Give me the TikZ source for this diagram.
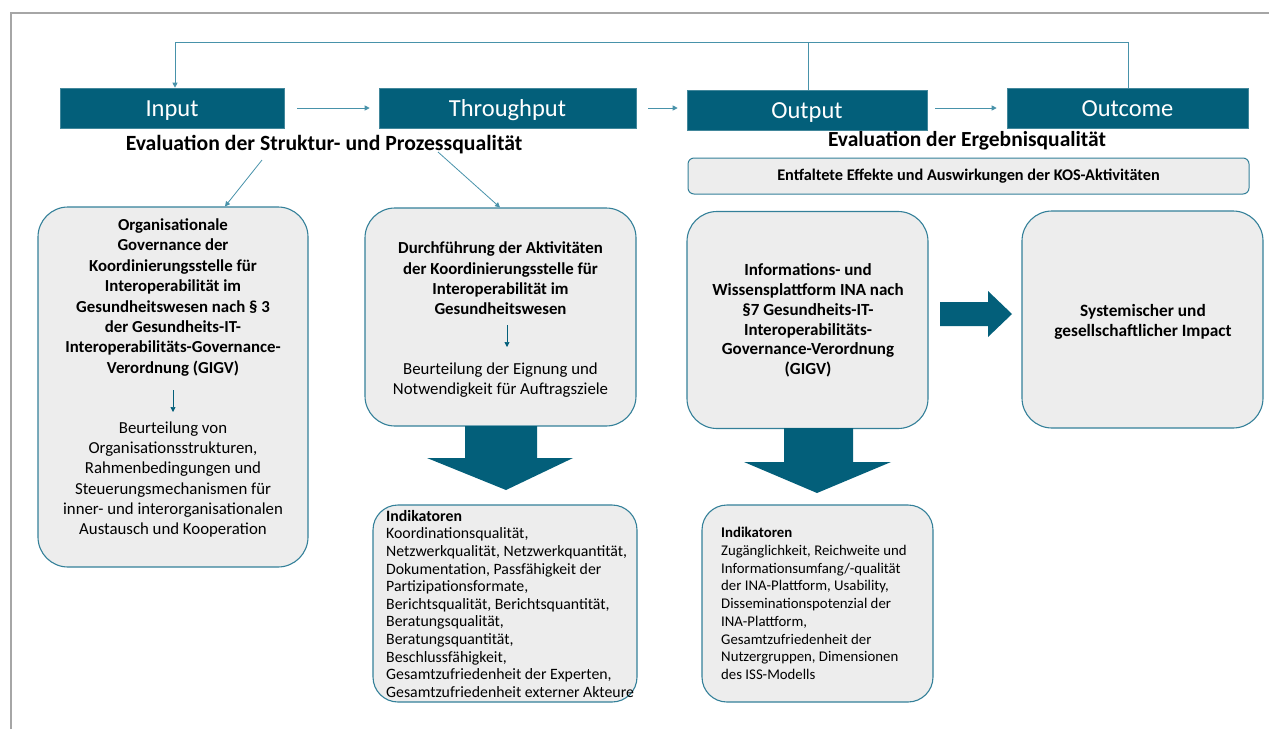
\documentclass[tikz,border=0pt]{standalone}
\usepackage{fontspec}
\setmainfont{Carlito}
\usetikzlibrary{arrows.meta}
\definecolor{hdrcol}{RGB}{3,95,122}
\definecolor{bordcol}{RGB}{52,128,153}
\definecolor{fillcol}{RGB}{237,237,237}
\definecolor{conncol}{RGB}{72,146,170}
\definecolor{framecol}{RGB}{166,166,166}
\begin{document}
\begin{tikzpicture}[x=1pt,y=-1pt,
  hdrbox/.style={fill=hdrcol, draw=hdrcol!75!white, line width=0.6pt, text=white, minimum height=40pt, inner sep=0pt, text height=20pt, text depth=3pt, font=\fontsize{24.5}{28}\selectfont},
  rbox/.style={draw=bordcol, fill=fillcol, line width=1.1pt, rounded corners=30pt, inner sep=0pt},
  ttl/.style={align=center, inner sep=0pt, font=\fontsize{16.8}{20.4}\selectfont\bfseries},
  bdy/.style={align=center, inner sep=0pt, font=\fontsize{16.8}{20.2}\selectfont},
  indtxt/.style={align=left, inner sep=0pt, anchor=north west},
  conn/.style={draw=conncol, line width=0.8pt, -{Triangle[length=5pt,width=5pt]}},
  plain/.style={draw=conncol, line width=0.8pt},
  smallarr/.style={draw=hdrcol, line width=0.7pt, -{Triangle[length=5pt,width=5pt]}},
  block/.style={fill=hdrcol, draw=none}
]
\useasboundingbox (0,0) rectangle (1269,729);
\draw[framecol, line width=2pt] (11,729) -- (11,13) -- (1269,13);

% header boxes
\node[hdrbox, minimum width=224pt] (input) at (172,108) {Input};
\node[hdrbox, minimum width=257pt] (through) at (507.5,108) {Throughput};
\node[hdrbox, minimum width=240pt] (output) at (807,110) {Output};
\node[hdrbox, minimum width=241pt] (outcome) at (1127.5,108) {Outcome};

% feedback loop
\coordinate (fbL) at (175,42);
\coordinate (fbO) at (808,42);
\coordinate (fbR) at (1128,42);
\draw[plain] (outcome.north -| fbR) -- (fbR) -- (fbL);
\draw[plain] (output.north -| fbO) -- (fbO);
\draw[conn] (fbL) -- (input.north -| fbL);

% horizontal arrows
\draw[conn, shorten <=13pt, shorten >=9pt] (input.east) -- (through.west);
\draw[conn, shorten <=12pt, shorten >=9pt] (through.east) -- (through.east -| output.west);
\draw[conn, shorten <=8pt, shorten >=10pt] (output.east |- outcome.west) -- (outcome.west);

% evaluation texts
\node[inner sep=0pt, font=\fontsize{21.7}{26}\selectfont\bfseries] (evalA) at (324,145) {Evaluation der Struktur- und Prozessqualität};
\node[inner sep=0pt, font=\fontsize{21.5}{26}\selectfont\bfseries] (evalB) at (967,141) {Evaluation der Ergebnisqualität};
\node[draw=bordcol, fill=fillcol, line width=1pt, rounded corners=6pt, minimum width=561pt, minimum height=36pt, inner sep=0pt, font=\fontsize{16.3}{19}\selectfont\bfseries] (effekte) at (968.5,176) {Entfaltete Effekte und Auswirkungen der KOS-Aktivitäten};

% left box
\node[rbox, minimum width=270pt, minimum height=360pt] (lbox) at (173,387) {};
\node[ttl] (ltitle) at (173,297.5) {Organisationale\\Governance der\\Koordinierungsstelle für\\Interoperabilität im\\Gesundheitswesen nach § 3\\der Gesundheits-IT-\\Interoperabilitäts-Governance-\\Verordnung (GIGV)};
\node[bdy] (lbody) at (173,479.5) {Beurteilung von\\Organisationsstrukturen,\\Rahmenbedingungen und\\Steuerungsmechanismen für\\inner- und interorganisationalen\\Austausch und Kooperation};
\draw[smallarr] (173,390) -- (173,412);

% middle box
\node[rbox, minimum width=271pt, minimum height=218pt] (mbox) at (500.5,317) {};
\node[ttl] (mtitle) at (500.5,278.5) {Durchführung der Aktivitäten\\der Koordinierungsstelle für\\Interoperabilität im\\Gesundheitswesen};
\node[bdy] (mbody) at (500.5,380.5) {Beurteilung der Eignung und\\Notwendigkeit für Auftragsziele};
\draw[smallarr] (507,325) -- (507,347);

% connectors from evaluation text
\coordinate (eA1) at (262,160);
\coordinate (eA2) at (438,152);
\draw[conn] (eA1) -- (lbox.north -| 225,0);
\draw[conn] (eA2) -- (mbox.north -| 500,0);

% INA box
\node[rbox, minimum width=241pt, minimum height=217pt] (ina) at (807.5,320) {};
\node[ttl, font=\fontsize{17}{19.8}\selectfont\bfseries] (inatxt) at (808,320.5) {Informations- und\\Wissensplattform INA nach\\§7 Gesundheits-IT-\\Interoperabilitäts-\\Governance-Verordnung\\(GIGV)};

% systemic box
\node[rbox, minimum width=241pt, minimum height=217pt] (sys) at (1142.5,319.5) {};
\node[ttl, font=\fontsize{17.3}{20.4}\selectfont\bfseries] (systxt) at (1143,322) {Systemischer und\\gesellschaftlicher Impact};

% block arrows
\fill[block] (465,426) -- (537,426) -- (537,458) -- (573,458) -- (506,490) -- (427,458) -- (465,458) -- cycle;
\fill[block] (784,428) -- (853,428) -- (853,462) -- (891,462) -- (817,493) -- (744,462) -- (784,462) -- cycle;
\fill[block] (940,302) -- (988,302) -- (988,291) -- (1012,314) -- (988,337) -- (988,326) -- (940,326) -- cycle;

% indicator boxes
\node[rbox, rounded corners=25pt, minimum width=264pt, minimum height=197pt] (mind) at (505,603.5) {};
\node[indtxt, font=\fontsize{15.8}{17.6}\selectfont] (mindtxt) at (386,510) {\textbf{Indikatoren}\\Koordinationsqualität,\\Netzwerkqualität, Netzwerkquantität,\\Dokumentation, Passfähigkeit der\\Partizipationsformate,\\Berichtsqualität, Berichtsquantität,\\Beratungsqualität,\\Beratungsquantität,\\Beschlussfähigkeit,\\Gesamtzufriedenheit der Experten,\\Gesamtzufriedenheit externer Akteure};

\node[rbox, rounded corners=25pt, minimum width=231pt, minimum height=197pt] (rind) at (817.5,603.5) {};
\node[indtxt, font=\fontsize{14.8}{17.75}\selectfont] (rindtxt) at (721,527) {\textbf{Indikatoren}\\Zugänglichkeit, Reichweite und\\Informationsumfang/-qualität\\der INA-Plattform, Usability,\\Disseminationspotenzial der\\INA-Plattform,\\Gesamtzufriedenheit der\\Nutzergruppen, Dimensionen\\des ISS-Modells};
\end{tikzpicture}
\end{document}
